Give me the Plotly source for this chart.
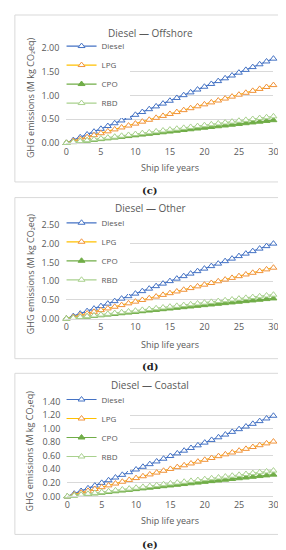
import plotly.graph_objects as go

W, H = 286, 550

years = list(range(31))
fuels = ["Diesel", "LPG", "CPO", "RBD"]

offshore_diesel = [0, .059, .119, .178, .237, .297, .356, .415, .474, .534, .593, .652, .712, .771, .830, .890, .949, 1.008, 1.067, 1.127, 1.186, 1.245, 1.305, 1.364, 1.423, 1.483, 1.542, 1.601, 1.660, 1.720, 1.779]
offshore_lpg = [0, .041, .081, .122, .163, .204, .244, .285, .326, .366, .407, .448, .488, .529, .570, .611, .651, .692, .733, .773, .814, .855, .895, .936, .977, 1.018, 1.058, 1.099, 1.140, 1.180, 1.221]
offshore_cpo = [0, .016, .032, .048, .064, .080, .096, .112, .128, .144, .160, .176, .192, .208, .224, .240, .256, .272, .288, .304, .320, .336, .352, .368, .384, .400, .416, .432, .448, .464, .480]
offshore_rbd = [0, .019, .037, .056, .075, .094, .112, .131, .150, .168, .187, .206, .224, .243, .262, .281, .299, .318, .337, .355, .374, .393, .411, .430, .449, .468, .486, .505, .524, .542, .561]

other_diesel = [0, .067, .133, .200, .267, .334, .400, .467, .534, .600, .667, .734, .800, .867, .934, 1.001, 1.067, 1.134, 1.201, 1.267, 1.334, 1.401, 1.467, 1.534, 1.601, 1.668, 1.734, 1.801, 1.868, 1.934, 2.001]
other_lpg = [0, .045, .091, .136, .181, .227, .272, .317, .362, .408, .453, .498, .544, .589, .634, .680, .725, .770, .815, .861, .906, .951, .997, 1.042, 1.087, 1.133, 1.178, 1.223, 1.268, 1.314, 1.359]
other_cpo = [0, .018, .036, .054, .072, .090, .108, .126, .144, .162, .180, .198, .216, .234, .252, .270, .288, .306, .324, .342, .360, .378, .396, .414, .432, .450, .468, .486, .504, .522, .540]
other_rbd = [0, .021, .043, .064, .085, .107, .128, .149, .170, .192, .213, .234, .256, .277, .298, .320, .341, .362, .383, .405, .426, .447, .469, .490, .511, .533, .554, .575, .596, .618, .639]

coastal_diesel = [0, .040, .079, .119, .159, .199, .238, .278, .318, .357, .397, .437, .476, .516, .556, .596, .635, .675, .715, .754, .794, .834, .873, .913, .953, .993, 1.032, 1.072, 1.112, 1.151, 1.191]
coastal_lpg = [0, .027, .054, .081, .108, .135, .162, .189, .216, .243, .270, .297, .324, .351, .378, .405, .432, .459, .486, .513, .540, .567, .594, .621, .648, .675, .702, .729, .756, .783, .810]
coastal_cpo = [0, .011, .021, .032, .043, .054, .064, .075, .086, .096, .107, .118, .128, .139, .150, .161, .171, .182, .193, .203, .214, .225, .235, .246, .257, .268, .278, .289, .300, .310, .321]
coastal_rbd = [0, .013, .025, .038, .051, .064, .076, .089, .102, .114, .127, .140, .152, .165, .178, .191, .203, .216, .229, .241, .254, .267, .279, .292, .305, .318, .330, .343, .356, .368, .381]

panel_titles = ["Diesel \u2014 Offshore", "Diesel \u2014 Other", "Diesel \u2014 Coastal"]
captions = ["(c)", "(d)", "(e)"]
x_title = "Ship life years"
y_title = "GHG emissions (M kg CO\u2082eq)"
y_ranges = [[0, 2.0], [0, 2.5], [0, 1.4]]
y_dticks = [0.5, 0.5, 0.2]
x_ticks = [0, 5, 10, 15, 20, 25, 30]

panels_data = [
    [offshore_diesel, offshore_lpg, offshore_cpo, offshore_rbd],
    [other_diesel, other_lpg, other_cpo, other_rbd],
    [coastal_diesel, coastal_lpg, coastal_cpo, coastal_rbd],
]

# styles
line_colors = ["#4472C4", "#FFC000", "#70AD47", "#A9D18E"]
marker_line_colors = ["#4472C4", "#F0923A", "#70AD47", "#A9D18E"]
marker_fill = ["white", "white", "#70AD47", "white"]

GRAY = "#595959"
GRID = "#D9D9D9"
FONT = "Open Sans"

# pixel geometry per panel
geo = [
    dict(x0=57, x1=270, y_top=34, y_bot=131, title_y=18, xtitle_y=156, box=(4, 0, 282, 171), cap_y=180, leg_y=61),
    dict(x0=57, x1=270, y_top=215, y_bot=311, title_y=198, xtitle_y=337, box=(4, 187, 282, 352), cap_y=360, leg_y=242),
    dict(x0=58, x1=270, y_top=396, y_bot=493, title_y=379, xtitle_y=518, box=(4, 367, 282, 532), cap_y=542, leg_y=423),
]

def px(x):
    return x / W

def py(y):
    return 1 - y / H

fig = go.Figure()
layout = dict(
    width=W, height=H, autosize=False,
    margin=dict(l=0, r=0, t=0, b=0),
    paper_bgcolor="white", plot_bgcolor="white",
    font=dict(family=FONT, color=GRAY, size=9),
    showlegend=True,
)
shapes = []
annotations = []

for i in range(3):
    g = geo[i]
    sfx = "" if i == 0 else str(i + 1)
    xa = "x" + sfx
    ya = "y" + sfx
    leg = "legend" if i == 0 else "legend" + str(i + 1)
    for k, name in enumerate(fuels):
        fig.add_trace(go.Scatter(
            x=years, y=panels_data[i][k], name=name, mode="lines+markers",
            xaxis=xa, yaxis=ya, legend=leg,
            line=dict(color=line_colors[k], width=1.2),
            marker=dict(symbol="triangle-up", size=6, color=marker_fill[k],
                        line=dict(color=marker_line_colors[k], width=1)),
            cliponaxis=False,
        ))
    layout["xaxis" + sfx] = dict(
        domain=[px(g["x0"]), px(g["x1"])], range=[0, 30], anchor=ya,
        tickvals=x_ticks, showgrid=False, zeroline=False,
        showline=True, linecolor=GRID, linewidth=1,
        ticks="", tickfont=dict(size=9, color=GRAY, family=FONT),
    )
    layout["yaxis" + sfx] = dict(
        domain=[py(g["y_bot"]), py(g["y_top"])], range=y_ranges[i], anchor=xa,
        dtick=y_dticks[i], tickformat=".2f", showgrid=True, gridcolor=GRID, gridwidth=1,
        zeroline=False, showline=False, ticks="", ticklabelstandoff=6,
        tickfont=dict(size=9, color=GRAY, family=FONT),
    )
    layout[leg] = dict(
        x=px(52), y=py(g["leg_y"]), xanchor="left", yanchor="middle",
        bgcolor="white", borderwidth=0, font=dict(size=8, color=GRAY, family=FONT),
        itemwidth=30, tracegroupgap=0,
    )
    bx0, by0, bx1, by1 = g["box"]
    shapes.append(dict(type="rect", xref="paper", yref="paper",
                       x0=px(bx0), x1=px(bx1), y0=py(by1), y1=py(by0),
                       line=dict(color=GRID, width=1), fillcolor="rgba(0,0,0,0)", layer="below"))
    annotations.append(dict(text=panel_titles[i], xref="paper", yref="paper",
                            x=px(143), y=py(g["title_y"]), showarrow=False,
                            xanchor="center", yanchor="middle",
                            font=dict(size=10, color=GRAY, family=FONT)))
    annotations.append(dict(text=x_title, xref="paper", yref="paper",
                            x=px((g["x0"] + g["x1"]) / 2), y=py(g["xtitle_y"]), showarrow=False,
                            xanchor="center", yanchor="middle",
                            font=dict(size=9, color=GRAY, family=FONT)))
    annotations.append(dict(text=y_title, xref="paper", yref="paper",
                            x=px(20), y=py((g["y_top"] + g["y_bot"]) / 2 + 2), showarrow=False,
                            textangle=-90, xanchor="center", yanchor="middle",
                            font=dict(size=9, color=GRAY, family=FONT)))
    annotations.append(dict(text=captions[i], xref="paper", yref="paper",
                            x=px(143), y=py(g["cap_y"]), showarrow=False,
                            xanchor="center", yanchor="middle",
                            font=dict(size=10, color="#222222", family="DejaVu Serif", weight="bold")))

layout["shapes"] = shapes
layout["annotations"] = annotations
fig.update_layout(**layout)
fig.write_html("out.html")
